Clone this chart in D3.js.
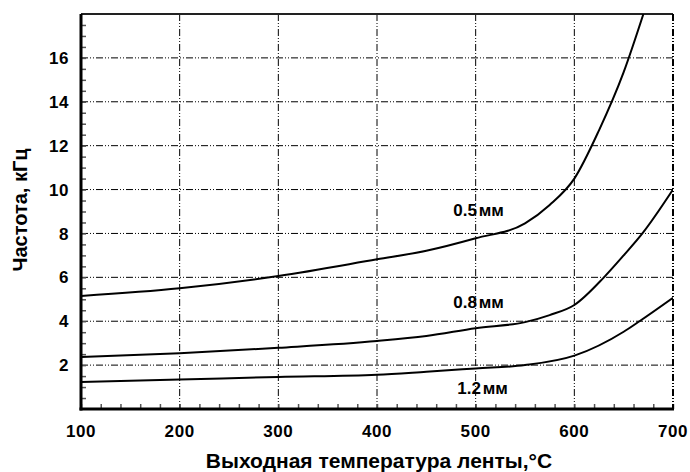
<!DOCTYPE html>
<html>
<head>
<meta charset="utf-8">
<script src="https://cdn.jsdelivr.net/npm/d3@7"></script>
<style>
  body { margin: 0; background: #fff; }
  text { font-family: "Liberation Sans", Arial, sans-serif; font-weight: bold; fill: #000; }
  .grid line { stroke: #000; stroke-width: 1; stroke-dasharray: 7,2,1,2,1,2; }
  .curve { fill: none; stroke: #000; stroke-width: 2; }
</style>
</head>
<body>
<div id="chart"></div>
<script>
// data (temperature in °C, frequency in kHz)
var t05 = [100, 200, 300, 400, 450, 500, 550, 575, 600, 625, 650, 670];
var f05 = [5.15, 5.5, 6.06, 6.82, 7.21, 7.78, 8.46, 9.3, 10.5, 12.7, 15.35, 18.0];

var t08 = [100, 200, 300, 400, 450, 500, 550, 575, 600, 630, 650, 669, 700];
var f08 = [2.37, 2.54, 2.79, 3.10, 3.33, 3.68, 3.96, 4.28, 4.74, 6.0, 7.0, 8.0, 10.0];

var t12 = [100, 200, 300, 400, 450, 500, 550, 600, 650, 666, 700];
var f12 = [1.23, 1.34, 1.46, 1.56, 1.70, 1.85, 2.0, 2.43, 3.52, 4.0, 5.07];

var seriesNames = ["0.5 мм", "0.8 мм", "1.2 мм"];
var labelT = [503, 503, 507];
var labelF = [8.8, 4.6, 0.68];

var xTicks = [100, 200, 300, 400, 500, 600, 700];
var yTicks = [2, 4, 6, 8, 10, 12, 14, 16];
var xTitle = "Выходная температура ленты,°С";
var yTitle = "Частота, кГц";

//size and margins
var margin = {top: 14, right: 17, bottom: 63, left: 81},
    width = 690 - margin.left - margin.right,
    height = 472 - margin.top - margin.bottom;

var svg = d3.select("#chart")
  .append("svg")
    .attr("width", 690)
    .attr("height", 472)
  .append("g")
    .attr("transform", "translate(" + margin.left + "," + margin.top + ")");

var x = d3.scaleLinear().domain([100, 700]).range([0, width]);
var y = d3.scaleLinear().domain([0, 18]).range([height, 0]);

//dash-dot grid
svg.append("g").attr("class", "grid")
  .selectAll("line").data(yTicks).enter().append("line")
    .attr("x1", 0).attr("x2", width)
    .attr("y1", function(d) { return y(d); })
    .attr("y2", function(d) { return y(d); });
svg.append("g").attr("class", "grid")
  .selectAll("line").data(xTicks.slice(1, -1)).enter().append("line")
    .attr("y1", 0).attr("y2", height)
    .attr("x1", function(d) { return x(d); })
    .attr("x2", function(d) { return x(d); });

//minor ticks pointing inwards
var xAxis = d3.axisTop(x).tickValues(d3.range(100, 701, 20)).tickSize(5).tickFormat("");
var yAxis = d3.axisRight(y).tickValues(d3.range(0.5, 18, 0.5)).tickSize(5).tickFormat("");
var gx = svg.append("g").attr("transform", "translate(0," + height + ")").call(xAxis);
var gy = svg.append("g").call(yAxis);
[gx, gy].forEach(function(g) {
  g.select(".domain").remove();
  g.selectAll("line").attr("stroke", "#555").attr("stroke-width", 1.5);
});

//tick labels
svg.append("g").selectAll("text").data(xTicks).enter().append("text")
  .attr("x", function(d) { return x(d); })
  .attr("y", height + 28)
  .attr("text-anchor", "middle")
  .style("font-size", "17px")
  .style("letter-spacing", "0.6px")
  .text(function(d) { return d; });
svg.append("g").selectAll("text").data(yTicks).enter().append("text")
  .attr("x", -12)
  .attr("y", function(d) { return y(d); })
  .attr("dy", "0.36em")
  .attr("text-anchor", "end")
  .style("font-size", "17px")
  .style("letter-spacing", "0.6px")
  .text(function(d) { return d; });

//frame
svg.append("line").attr("x1", 0).attr("x2", width).attr("y1", 0).attr("y2", 0)
  .attr("stroke", "#222").attr("stroke-width", 2);
svg.append("line").attr("x1", width).attr("x2", width).attr("y1", 0).attr("y2", height)
  .attr("stroke", "#000").attr("stroke-width", 2).attr("stroke-dasharray", "7,2,1,2,1,2");
svg.append("line").attr("x1", 0).attr("x2", 0).attr("y1", 0).attr("y2", height + 1.5)
  .attr("stroke", "#000").attr("stroke-width", 3);
svg.append("line").attr("x1", -1.5).attr("x2", width + 1).attr("y1", height).attr("y2", height)
  .attr("stroke", "#000").attr("stroke-width", 3);

//curves
svg.append("clipPath").attr("id", "clip")
  .append("rect").attr("width", width).attr("height", height);

var line = d3.line()
  .x(function(d) { return x(d[0]); })
  .y(function(d) { return y(d[1]); })
  .curve(d3.curveMonotoneX);

[[t05, f05], [t08, f08], [t12, f12]].forEach(function(s) {
  svg.append("path")
    .attr("class", "curve")
    .attr("clip-path", "url(#clip)")
    .attr("d", line(d3.zip(s[0], s[1])));
});

//series labels
svg.append("g").selectAll("text").data(seriesNames).enter().append("text")
  .attr("x", function(d, i) { return x(labelT[i]); })
  .attr("y", function(d, i) { return y(labelF[i]); })
  .attr("text-anchor", "middle")
  .style("font-size", "17px")
  .style("word-spacing", "-3px")
  .text(function(d) { return d; });

//axis titles
svg.append("text")
  .attr("x", 298)
  .attr("y", height + 59)
  .attr("text-anchor", "middle")
  .style("font-size", "21px")
  .text(xTitle);
svg.append("text")
  .attr("transform", "rotate(-90)")
  .attr("x", -(210 - margin.top))
  .attr("y", -54)
  .attr("text-anchor", "middle")
  .style("font-size", "20px")
  .text(yTitle);
</script>
</body>
</html>
